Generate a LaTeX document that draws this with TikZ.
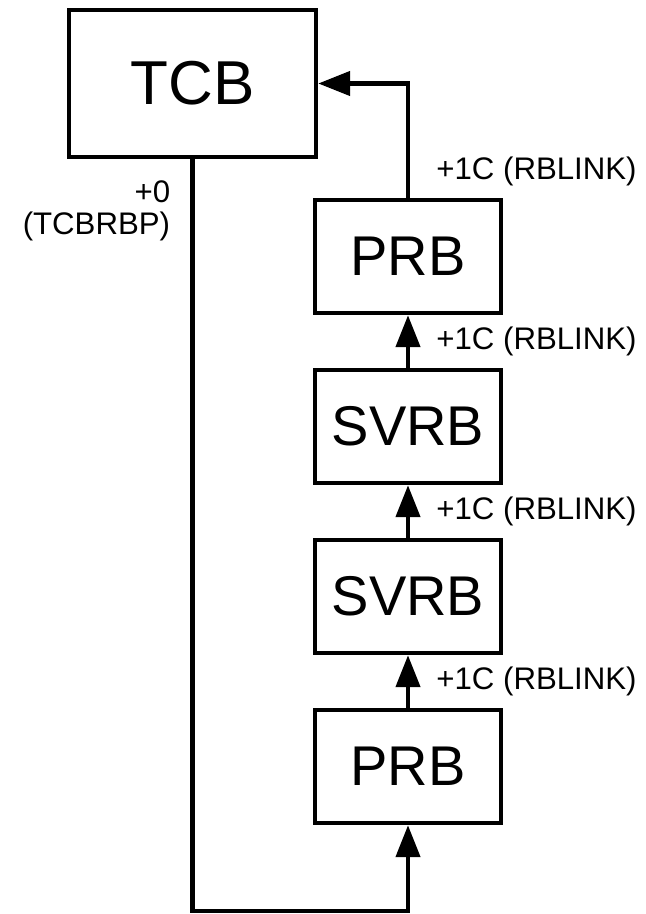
\documentclass[tikz,border=0pt]{standalone}
\usepackage{fontspec}
\setmainfont{Liberation Sans}
\usetikzlibrary{arrows.meta,positioning}

\begin{document}
\begin{tikzpicture}[
    x=1pt,y=1pt,
    node distance=26.3pt,
    box/.style={draw,line width=2.2pt,minimum width=93pt,minimum height=56.5pt,
      inner sep=0pt,font=\fontsize{28}{32}\selectfont},
    lbl/.style={inner sep=0pt,font=\fontsize{15.6}{16}\selectfont},
    arr/.style={-{Triangle[length=16pt,width=12pt]},line width=2.2pt}
  ]
    \useasboundingbox (0,0) rectangle (323,-457);
    \node[box,minimum width=123.5pt,minimum height=73.5pt,
      font=\fontsize{31}{36}\selectfont] (tcb) at (96.25,-41.75) {TCB};
    \node[box] (prb1) at (204,-128.25) {PRB};
    \node[box,below=of prb1] (svrb1) {SVRB};
    \node[box,below=of svrb1] (svrb2) {SVRB};
    \node[box,below=of svrb2] (prb2) {PRB};
    % link offsets
    \foreach \b in {prb1,svrb1,svrb2,prb2}
      \node[lbl,above right=9pt and 14pt of \b.north,anchor=base west] (lnk-\b) {+1C (RBLINK)};
    \node[lbl,align=right,below left=10.5pt and 11pt of tcb.south,anchor=north east] (rbp) {+0\\(TCBRBP)};
    \coordinate (turn) at (96.25,-455.5);
    \draw[arr] (tcb.south)--(turn)-|(prb2.south);
    \draw[arr] (prb2)--(svrb2);
    \draw[arr] (svrb2)--(svrb1);
    \draw[arr] (svrb1)--(prb1);
    \draw[arr] (prb1.north)|-(tcb.east);
  \end{tikzpicture}
\end{document}
